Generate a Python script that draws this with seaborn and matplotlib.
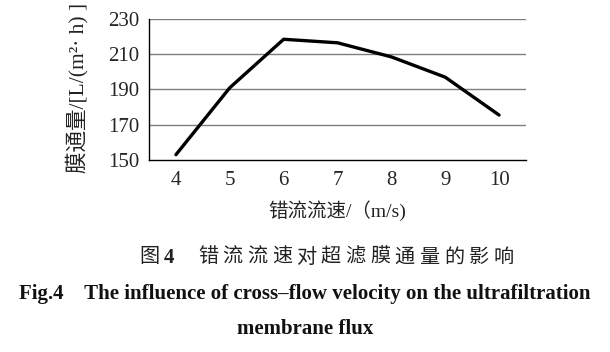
import numpy as np
import pandas as pd
import matplotlib
matplotlib.use("Agg")
import matplotlib.pyplot as plt
import seaborn as sns

# ── Data ──
velocity = [4, 5, 6, 7, 8, 9, 10]
flux = [153, 191, 218.5, 216.5, 208.5, 197, 175.5]
y_ticks = [150, 170, 190, 210, 230]
caption_cn = "错流流速对超滤膜通量的影响"

df = pd.DataFrame({"velocity": velocity, "flux": flux})

sns.set_style("white")
plt.rcParams['font.family'] = ['Liberation Serif', 'Noto Sans CJK SC', 'DejaVu Sans']

fig = plt.figure(figsize=(6.1, 3.52), dpi=100)
ax = fig.add_axes([149 / 610, 1 - 160 / 352, 377 / 610, 141 / 352])

# ── Gridlines ──
for v in y_ticks[1:]:
    ax.axhline(v, color="#7f7f7f", lw=1.0, zorder=0)

sns.lineplot(data=df, x="velocity", y="flux", color="black", lw=2.4, ax=ax)

ax.set_xlim(3.5, 10.5)
ax.set_ylim(150, 230)
ax.set_yticks(y_ticks)
ax.set_xticks(velocity)
ax.set_xticks(np.arange(3.5, 11, 1.0), minor=True)
ax.tick_params(axis="x", which="major", length=0, pad=8, labelsize=15)
ax.tick_params(axis="x", which="minor", length=5, width=1, color="black", direction="out")
ax.tick_params(axis="y", which="major", length=5, width=1, color="black",
               direction="out", pad=2, labelsize=15)
ax.set_xlabel("")
ax.set_ylabel("")

for s in ["top", "right"]:
    ax.spines[s].set_visible(False)
for s in ["left", "bottom"]:
    ax.spines[s].set_color("black")
    ax.spines[s].set_linewidth(1.0)

# ── Axis titles ──
fig.text(77 / 610, 1 - 88 / 352, "膜通量/[L/(m²· h) ]", rotation=90,
         ha="center", va="center", fontsize=15.5, color="#222222")
fig.text(337 / 610, 1 - 211 / 352, "错流流速/（m/s)",
         ha="center", va="center", fontsize=14, color="#222222")

# ── Caption ──
cy = 1 - 258 / 352
fig.text(149 / 610, cy, "图", ha="center", va="center", fontsize=14.5, color="#222222")
fig.text(169 / 610, cy, "4", ha="center", va="center", fontsize=15,
         fontweight="bold", color="#222222")
for i, ch in enumerate(caption_cn):
    fig.text((208 + i * 24.6) / 610, cy, ch, ha="center", va="center",
             fontsize=14.5, color="#222222")
fig.text(305 / 610, 1 - 294 / 352,
         "Fig.4    The influence of cross\u2013flow velocity on the ultrafiltration",
         ha="center", va="center", fontsize=15, fontweight="bold", color="#111111")
fig.text(305 / 610, 1 - 329 / 352, "membrane flux",
         ha="center", va="center", fontsize=15, fontweight="bold", color="#111111")

fig.savefig("out.png", dpi=100)
plt.close(fig)
